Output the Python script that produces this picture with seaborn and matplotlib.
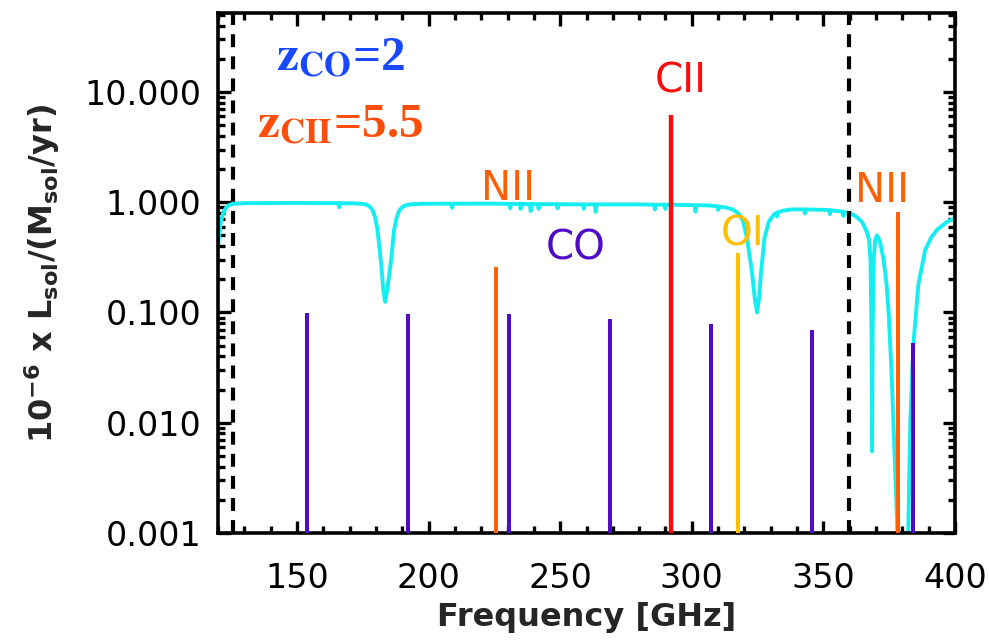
import numpy as np
import matplotlib
matplotlib.use("Agg")
import matplotlib.pyplot as plt
import seaborn as sns
from matplotlib.ticker import (FixedLocator, MultipleLocator, FormatStrFormatter,
                               LogLocator, NullFormatter)

# ---------------- data ----------------
# atmospheric transmission curve (frequency in GHz, transmission)
atm_freq = [
    120.0, 120.5, 121.0, 122.0, 123.0, 124.0, 126.0, 130.0, 150.0, 165.7, 166.0, 166.3, 172.0,
    175.0, 176.5, 177.7, 178.7, 179.7, 180.6, 181.9, 182.8, 183.5, 184.3, 185.7, 186.9, 187.9, 189.0,
    190.2, 191.8, 194.0, 197.0,
    208.7, 209.0, 209.3, 225.0, 230.7, 231.0, 231.3, 234.7, 235.0, 235.3, 238.5, 238.8, 239.1, 241.5, 241.8, 242.1,
    248.7, 249.0, 249.3, 258.7, 259.0, 259.3, 263.2, 263.5, 263.8, 271.0, 280.0, 285.7, 286.0, 286.3, 289.7, 290.0, 290.3,
    295.0, 301.1, 301.4, 301.7, 306.0, 309.7, 310.0, 310.3, 313.0, 315.5, 317.5, 319.5,
    321.0, 322.9, 324.0, 324.8, 325.5, 326.3, 327.6, 329.2, 331.1,
    332.1, 332.4, 332.7, 334.9, 338.0, 342.7, 343.0, 343.3, 348.0, 352.2, 352.5, 352.8, 357.3, 357.6, 357.9, 360.0,
    362.5, 364.7, 366.5, 367.3, 367.9, 368.3, 368.5, 368.7, 369.1, 369.7, 370.4,
    371.5, 372.9, 374.0, 374.8, 376.0, 377.3, 378.2, 379.0, 380.2, 381.4, 382.2, 383.0, 384.2,
    386.1, 388.7, 391.0, 393.1, 396.9, 400.0,
]
atm_trans = [
    0.40, 0.52, 0.65, 0.80, 0.89, 0.94, 0.97, 0.98, 0.985, 0.98, 0.90, 0.98, 0.975,
    0.965, 0.95, 0.91, 0.85, 0.73, 0.56, 0.29, 0.16, 0.125, 0.16, 0.29, 0.56, 0.73, 0.85,
    0.91, 0.945, 0.96, 0.967,
    0.97, 0.89, 0.97, 0.97, 0.965, 0.88, 0.965, 0.965, 0.87, 0.965, 0.962, 0.83, 0.962, 0.96, 0.87, 0.96,
    0.96, 0.88, 0.96, 0.955, 0.87, 0.955, 0.955, 0.82, 0.955, 0.955, 0.955, 0.95, 0.86, 0.95, 0.95, 0.87, 0.95,
    0.945, 0.94, 0.82, 0.94, 0.935, 0.92, 0.85, 0.91, 0.895, 0.86, 0.80, 0.68,
    0.47, 0.23, 0.13, 0.10, 0.13, 0.23, 0.47, 0.66, 0.77,
    0.80, 0.74, 0.81, 0.84, 0.86, 0.86, 0.79, 0.86, 0.855, 0.85, 0.78, 0.845, 0.82, 0.75, 0.81, 0.80,
    0.74, 0.66, 0.54, 0.46, 0.30, 0.06, 0.0055, 0.06, 0.30, 0.46, 0.50,
    0.44, 0.30, 0.18, 0.10, 0.025, 0.0035, 0.0009, 0.0003, 0.0001, 0.0003, 0.0009, 0.010, 0.052,
    0.18, 0.37, 0.48, 0.56, 0.66, 0.72,
]

# CO ladder at z=2
co_freq = [153.7, 192.1, 230.5, 268.9, 307.3, 345.6, 384.0]
co_lum = [0.098, 0.096, 0.096, 0.088, 0.078, 0.070, 0.053]
# fine-structure lines at z=5.5
cii_freq = [292.0]
cii_lum = [6.2]
nii_freq = [225.5, 378.3]
nii_lum = [0.26, 0.82]
oi_freq = [317.6]
oi_lum = [0.345]

band_edges = [125.6, 359.7]

line_labels = ["CII", "NII", "CO", "OI", "NII"]
label_freq = [295.7, 230.1, 255.9, 319.2, 372.4]
label_lum = [9.96, 1.045, 0.30, 0.408, 1.0]

ytick_vals = [0.001, 0.01, 0.1, 1.0, 10.0]

# ---------------- style ----------------
CYAN = "#14EEF0"
PURPLE = "#4E0CC8"
RED = "#FF0A0A"
ORANGE = "#FF5F05"
GOLD = "#FFBE00"
BLUE = "#1848FF"
ZORANGE = "#FF4E0A"
label_colors = [RED, ORANGE, PURPLE, GOLD, ORANGE]

sns.set_theme(style="ticks")
plt.rcParams["font.family"] = ["DejaVu Sans"]

fig = plt.figure(figsize=(9.89, 6.4), dpi=100)
ax = fig.add_axes([218 / 989, 1 - 533 / 640, 737 / 989, 520 / 640])
ax.set_yscale("log")
ax.set_xlim(120, 400)
ax.set_ylim(0.001, 52)
y_floor = ax.get_ylim()[0]

sns.lineplot(x=atm_freq, y=atm_trans, ax=ax, color=CYAN, lw=2.8,
             sort=False, estimator=None, zorder=2)

ax.vlines(co_freq, y_floor, co_lum, colors=PURPLE, lw=2.9, zorder=3)
ax.vlines(cii_freq, y_floor, cii_lum, colors=RED, lw=3.2, zorder=3)
ax.vlines(nii_freq, y_floor, nii_lum, colors=ORANGE, lw=2.9, zorder=3)
ax.vlines(oi_freq, y_floor, oi_lum, colors=GOLD, lw=2.9, zorder=3)

for xe in band_edges:
    ax.axvline(xe, color="black", lw=3.0, ls=(0, (3.1, 2.2)), zorder=4)

for txt, xf, yl, c in zip(line_labels, label_freq, label_lum, label_colors):
    ax.text(xf, yl, txt, color=c, fontsize=29, ha="center", va="baseline", zorder=5)

ax.text(142.0, 15.8, r"$\mathbf{z_{CO}}$=2", color=BLUE, fontsize=35.5,
        fontfamily="Liberation Serif", fontweight="bold", math_fontfamily="stix",
        ha="left", va="baseline")
ax.text(135.0, 3.89, r"$\mathbf{z_{CII}}$=5.5", color=ZORANGE, fontsize=35.5,
        fontfamily="Liberation Serif", fontweight="bold", math_fontfamily="stix",
        ha="left", va="baseline")

# axes, ticks
ax.xaxis.set_major_locator(MultipleLocator(50))
ax.xaxis.set_minor_locator(MultipleLocator(10))
ax.yaxis.set_major_locator(FixedLocator(ytick_vals))
ax.yaxis.set_major_formatter(FormatStrFormatter("%.3f"))
ax.yaxis.set_minor_locator(LogLocator(base=10, subs=np.arange(2, 10) * 1.0, numticks=30))
ax.yaxis.set_minor_formatter(NullFormatter())

ax.tick_params(which="both", direction="in", top=True, right=True,
               color="black", width=2.4, labelsize=24, labelcolor="black")
ax.tick_params(which="major", length=9)
ax.tick_params(which="minor", length=5)
ax.tick_params(axis="x", which="major", pad=21)
ax.tick_params(axis="y", which="major", pad=12)

for sp in ax.spines.values():
    sp.set_linewidth(2.6)
    sp.set_color("black")
    sp.set_visible(True)

ax.set_xlabel("Frequency [GHz]", fontsize=23, fontweight="bold", va="top")
ax.xaxis.set_label_coords(0.5, -0.132)
ax.set_ylabel(r"10$^{\mathbf{-6}}$ x L$_{\mathbf{sol}}$/(M$_{\mathbf{sol}}$/yr)",
              fontsize=23, fontweight="bold")
ax.yaxis.set_label_coords(-0.212, 0.5)
ax.grid(False)
ax.set_facecolor("white")
fig.patch.set_facecolor("white")

fig.savefig("out.png", dpi=100)
